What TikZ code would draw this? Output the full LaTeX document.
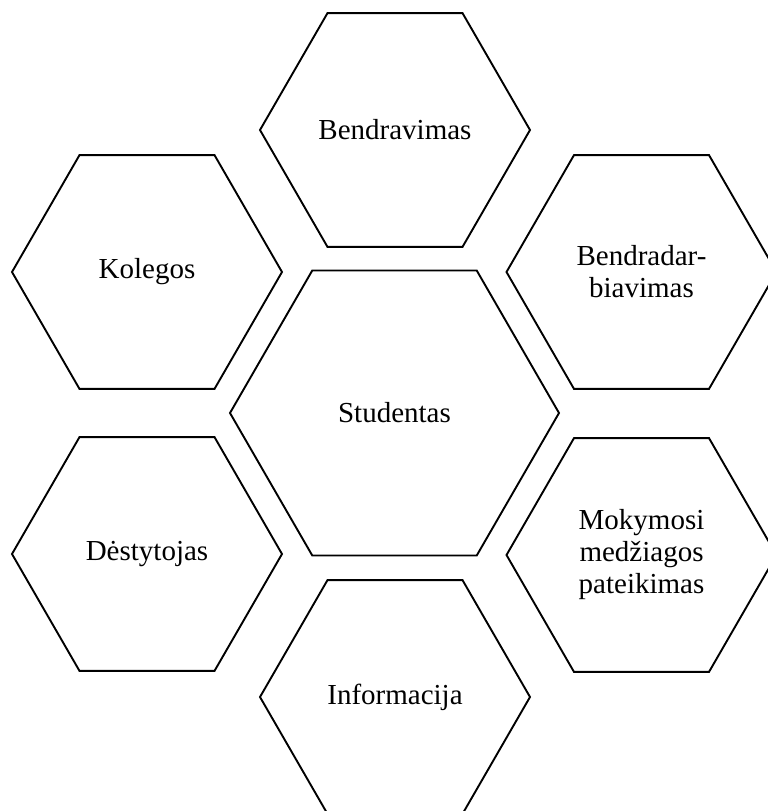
\documentclass[tikz,border=0pt]{standalone}
\usepackage{fontspec}
\setmainfont{Liberation Serif}
\usetikzlibrary{shapes.geometric}
\begin{document}
\begin{tikzpicture}[x=1pt,y=-1pt,
  hexbox/.style={regular polygon, regular polygon sides=6, draw=black, line width=1.9pt,
    inner sep=0pt, outer sep=0pt, align=center, font=\fontsize{29}{32}\selectfont},
  small/.style={hexbox, minimum size=270pt},
  big/.style={hexbox, minimum size=329pt}]
\useasboundingbox (0,0) rectangle (768,811);
\node[big] (stud) at (394.5,413) {Studentas};
\node[small] (bendr) at (395,130) {Bendravimas};
\node[small] (kol) at (147,272) {Kolegos};
\node[small] (bendd) at (641.5,272) {Bendradar-\\biavimas};
\node[small] (dest) at (147,554) {Dėstytojas};
\node[small] (mok) at (641.5,555) {Mokymosi\\medžiagos\\pateikimas};
\node[small] (inf) at (395,697) {Informacija};
\end{tikzpicture}
\end{document}
